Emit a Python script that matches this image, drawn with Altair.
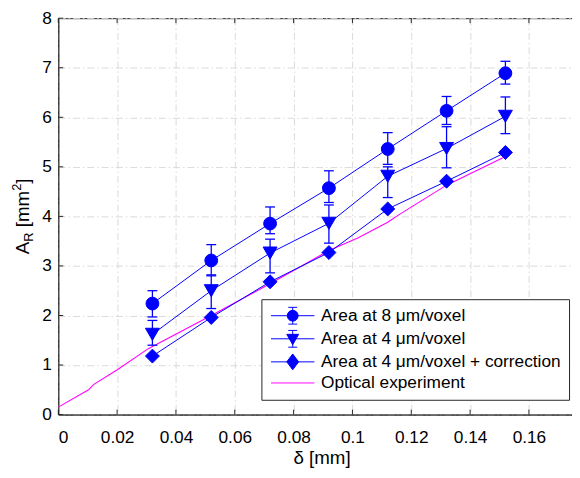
import altair as alt
import pandas as pd

# ---- data ----
delta = [0.032, 0.052, 0.072, 0.092, 0.112, 0.132, 0.152]
area8 = [2.24, 3.11, 3.855, 4.57, 5.36, 6.13, 6.89]
area8_hi = [2.50, 3.43, 4.19, 4.92, 5.69, 6.42, 7.13]
area8_lo = [1.97, 2.82, 3.65, 4.28, 5.05, 5.855, 6.67]
area4 = [1.62, 2.50, 3.26, 3.86, 4.81, 5.37, 6.02]
area4_hi = [1.90, 2.80, 3.54, 4.23, 5.00, 5.81, 6.41]
area4_lo = [1.40, 2.14, 2.86, 3.46, 4.38, 4.98, 5.67]
area4c = [1.18, 1.96, 2.68, 3.27, 4.15, 4.71, 5.29]
opt_x = [0, 0.0103, 0.0121, 0.0202, 0.0306, 0.052, 0.072, 0.092, 0.102, 0.112, 0.116, 0.132, 0.152]
opt_y = [0.15, 0.50, 0.61, 0.91, 1.33, 2.00, 2.64, 3.31, 3.57, 3.88, 4.04, 4.63, 5.21]
series = ["Area at 8 μm/voxel", "Area at 4 μm/voxel",
          "Area at 4 μm/voxel + correction", "Optical experiment"]
x_ticks = [0, 0.02, 0.04, 0.06, 0.08, 0.1, 0.12, 0.14, 0.16]
y_ticks = [0, 1, 2, 3, 4, 5, 6, 7, 8]

TW, TH = 572, 470        # whole chart (fit)
BLUE = "#0000ff"
MAG = "#ff00ff"
INK = "#262626"
FONT = "Liberation Sans"
FS = 17.5

xscale = alt.Scale(domain=[0, 0.179], nice=False, zero=False)
yscale = alt.Scale(domain=[0, 8], nice=False, zero=False)
xaxis = alt.Axis(values=x_ticks, format="~g", title="δ [mm]", grid=True,
                 ticks=False, labelPadding=14, titlePadding=3)
yaxis = alt.Axis(values=y_ticks, format="d", title=None, grid=True,
                 ticks=False, labelPadding=7)


def X(f):
    return alt.X(f, type="quantitative", scale=xscale, axis=xaxis)


def Y(f):
    return alt.Y(f, type="quantitative", scale=yscale, axis=yaxis)


pts = pd.DataFrame(dict(delta=delta, a8=area8, a8hi=area8_hi, a8lo=area8_lo,
                        a4=area4, a4hi=area4_hi, a4lo=area4_lo, a4c=area4c))
opt = pd.DataFrame(dict(delta=opt_x, v=opt_y))
base = alt.Chart(pts)

layers = []
layers.append(alt.Chart(opt).mark_line(color=MAG, strokeWidth=1.1).encode(x=X("delta"), y=Y("v")))

for v, hi, lo, shape, size in [("a8", "a8hi", "a8lo", "circle", 169),
                               ("a4", "a4hi", "a4lo", "triangle-down", 200),
                               ("a4c", None, None, "diamond", 200)]:
    layers.append(base.mark_line(color=BLUE, strokeWidth=1).encode(x=X("delta"), y=Y(v)))
    if hi:
        layers.append(base.mark_rule(color=BLUE, strokeWidth=1.3).encode(
            x=X("delta"), y=Y(lo), y2=alt.Y2(hi)))
        for c in (lo, hi):
            layers.append(base.mark_tick(color=BLUE, orient="horizontal", size=10,
                                         thickness=1.3, opacity=1).encode(x=X("delta"), y=Y(c)))
    layers.append(base.mark_point(shape=shape, size=size, filled=True, color=BLUE,
                                  stroke=BLUE, strokeWidth=1, opacity=1).encode(
        x=X("delta"), y=Y(v)))

# inward tick marks on all four sides
xt = pd.DataFrame(dict(t=x_ticks))
yt = pd.DataFrame(dict(t=y_ticks))
layers.append(alt.Chart(xt).mark_rule(color=INK, strokeWidth=1).encode(
    x=X("t"), y=alt.value({"expr": "height"}), y2=alt.value({"expr": "height - 5"})))
layers.append(alt.Chart(xt).mark_rule(color=INK, strokeWidth=1).encode(
    x=X("t"), y=alt.value(0), y2=alt.value(5)))
layers.append(alt.Chart(yt).mark_rule(color=INK, strokeWidth=1).encode(
    y=Y("t"), x=alt.value(0), x2=alt.value(5)))
layers.append(alt.Chart(yt).mark_rule(color=INK, strokeWidth=1).encode(
    y=Y("t"), x=alt.value({"expr": "width - 5"}), x2=alt.value({"expr": "width"})))

# legend (symbols are custom paths: line + marker + error bar)
leg_paths = [
    "M-22,0L22,0M0,-8.5L0,8.5M-4.5,-8.5L4.5,-8.5M-4.5,8.5L4.5,8.5M-5.5,0A5.5,5.5 0 1,0 5.5,0A5.5,5.5 0 1,0 -5.5,0Z",
    "M-22,0L22,0M0,-8.5L0,8.5M-4.5,-8.5L4.5,-8.5M-4.5,8.5L4.5,8.5M-6,-4.5L6,-4.5L0,6Z",
    "M-22,0L22,0M-6,0L0,-8L6,0L0,8Z",
    "M-22,0L22,0",
]
leg = alt.Legend(orient="none", legendX=206, legendY=285, title=None, direction="vertical",
                 fillColor="white", strokeColor=INK, padding=8, rowPadding=1.4,
                 labelFontSize=FS, labelFont=FONT, labelColor="black", labelLimit=400,
                 symbolSize=4, symbolStrokeWidth=1, symbolOffset=15, labelOffset=20)
layers.append(alt.Chart(pd.DataFrame(dict(series=series))).transform_filter("false")
              .mark_point(filled=True, opacity=1).encode(
    shape=alt.Shape("series:N", scale=alt.Scale(domain=series, range=leg_paths), legend=leg),
    fill=alt.Fill("series:N", scale=alt.Scale(domain=series, range=[BLUE, BLUE, BLUE, MAG]), legend=leg),
    stroke=alt.Stroke("series:N", scale=alt.Scale(domain=series, range=[BLUE, BLUE, BLUE, MAG]), legend=leg),
))

# y-axis title A_R [mm^2] built from pieces
one = alt.Data(values=[{"k": 1}])
for txt, fs, dx, dy in [("A", 19, 0, 38.4), ("R", 13, 4, 25.7), ("[mm", 19, 0, 11.0),
                        ("2", 13, -8, -25.9), ("]", 19, 0, -33.1)]:
    layers.append(alt.Chart(one).mark_text(text=txt, fontSize=fs, font=FONT, angle=270,
                                           align="left", baseline="alphabetic", color="black").encode(
        x=alt.value(-30 + dx), y=alt.value({"expr": f"height / 2 + {dy}"})))

chart = alt.layer(*layers).properties(
    width=TW, height=TH, padding={"left": 3, "top": -2, "right": -14, "bottom": 7},
    autosize=alt.AutoSizeParams(type="fit", contains="padding")
).configure_view(stroke=INK, strokeWidth=1).configure_axis(
    labelFont=FONT, titleFont=FONT, labelFontSize=FS, titleFontSize=19,
    labelColor="black", titleColor="black", titleFontWeight="normal",
    domainColor=INK, domainWidth=1, gridColor="#d9d9d9", gridDash=[7, 3, 1.5, 3], gridWidth=1,
).configure_legend(symbolStrokeWidth=1)

chart.save("out.html", embed_options={"renderer": "svg", "actions": False})
